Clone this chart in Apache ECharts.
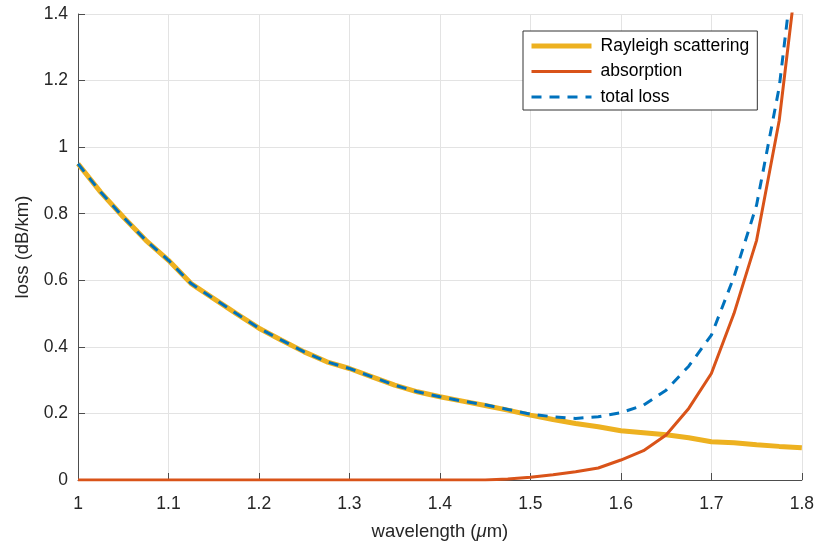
<!DOCTYPE html>
<html>
<head>
<meta charset="utf-8">
<script src="https://cdn.jsdelivr.net/npm/echarts@6/dist/echarts.min.js"></script>
<style>
  html, body { margin: 0; padding: 0; background: #fff; }
  #chart { width: 817px; height: 548px; }
</style>
</head>
<body>
<div id="chart"></div>
<script>
var wavelength = [1.0, 1.025, 1.05, 1.075, 1.1, 1.125, 1.15, 1.175, 1.2, 1.225, 1.25, 1.275,
  1.3, 1.325, 1.35, 1.375, 1.4, 1.425, 1.45, 1.475, 1.5, 1.525, 1.55, 1.575,
  1.6, 1.625, 1.65, 1.675, 1.7, 1.725, 1.75, 1.775, 1.8];

var rayleigh = [0.95, 0.865, 0.79, 0.72, 0.66, 0.59, 0.545, 0.50, 0.456, 0.42, 0.385, 0.355,
  0.335, 0.31, 0.285, 0.265, 0.25, 0.237, 0.224, 0.21, 0.195, 0.182, 0.17, 0.16,
  0.148, 0.142, 0.136, 0.127, 0.115, 0.112, 0.106, 0.101, 0.097];

var absorption = [0, 0, 0, 0, 0, 0, 0, 0, 0, 0, 0, 0,
  0, 0, 0, 0, 0, 0, 0, 0.003, 0.008, 0.016, 0.025, 0.036,
  0.06, 0.088, 0.135, 0.215, 0.32, 0.50, 0.72, 1.08, 1.65];

var totalLoss = [0.95, 0.865, 0.79, 0.72, 0.66, 0.59, 0.545, 0.50, 0.456, 0.42, 0.385, 0.355,
  0.335, 0.31, 0.285, 0.265, 0.25, 0.237, 0.226, 0.212, 0.198, 0.19, 0.185, 0.19,
  0.202, 0.225, 0.27, 0.342, 0.435, 0.61, 0.826, 1.18, 1.75];

var legendNames = ['Rayleigh scattering', 'absorption', 'total loss'];

function pairs(ys) {
  return wavelength.map(function (x, i) { return [x, ys[i]]; });
}

var fmt = function (v) { return String(+v.toFixed(1)); };
var font = '"Liberation Sans", Arial, Helvetica, sans-serif';

var chart = echarts.init(document.getElementById('chart'), null, { renderer: 'canvas' });

chart.setOption({
  animation: false,
  backgroundColor: '#fff',
  textStyle: { fontFamily: font },
  grid: { left: 78, right: 14, top: 14, bottom: 68, containLabel: false },
  legend: {
    orient: 'vertical',
    left: 523,
    top: 31,
    padding: [6, 8, 4, 6],
    itemWidth: 60,
    itemHeight: 14,
    itemGap: 7.5,
    backgroundColor: '#fff',
    borderColor: '#333',
    borderWidth: 1,
    borderRadius: 0,
    itemStyle: { opacity: 0 },
    textStyle: { fontSize: 17.5, color: '#000', fontFamily: font, padding: [0, 0, 0, 4] },
    data: [
      { name: legendNames[0], lineStyle: { width: 5 } },
      { name: legendNames[1], lineStyle: { width: 3 } },
      { name: legendNames[2], lineStyle: { width: 3 } }
    ]
  },
  xAxis: {
    type: 'value',
    min: 1,
    max: 1.8,
    interval: 0.1,
    name: '{n|wavelength (}{i|μ}{n|m)}',
    nameLocation: 'middle',
    nameGap: 42,
    nameTextStyle: {
      rich: {
        n: { fontSize: 18.5, color: '#262626', fontFamily: font },
        i: { fontSize: 18.5, color: '#262626', fontFamily: font, fontStyle: 'italic' }
      }
    },
    axisLine: { show: true, lineStyle: { color: '#4d4d4d', width: 1 } },
    axisTick: { show: true, inside: true, length: 7, lineStyle: { color: '#4d4d4d' } },
    axisLabel: { formatter: fmt, fontSize: 17.5, color: '#262626', margin: 15 },
    splitLine: { show: true, lineStyle: { color: '#e3e3e3', width: 1 } }
  },
  yAxis: {
    type: 'value',
    min: 0,
    max: 1.4,
    interval: 0.2,
    name: 'loss (dB/km)',
    nameLocation: 'middle',
    nameGap: 44,
    nameTextStyle: { fontSize: 18.5, color: '#262626', fontFamily: font },
    axisLine: { show: true, lineStyle: { color: '#4d4d4d', width: 1 } },
    axisTick: { show: true, inside: true, length: 7, lineStyle: { color: '#4d4d4d' } },
    axisLabel: { formatter: fmt, fontSize: 17.5, color: '#262626', margin: 10 },
    splitLine: { show: true, lineStyle: { color: '#e3e3e3', width: 1 } }
  },
  series: [
    {
      name: legendNames[0],
      type: 'line',
      symbol: 'none',
      clip: true,
      color: '#EDB120',
      lineStyle: { color: '#EDB120', width: 5 },
      data: pairs(rayleigh)
    },
    {
      name: legendNames[1],
      type: 'line',
      symbol: 'none',
      clip: true,
      color: '#D95319',
      lineStyle: { color: '#D95319', width: 3 },
      data: pairs(absorption)
    },
    {
      name: legendNames[2],
      type: 'line',
      symbol: 'none',
      clip: true,
      color: '#0072BD',
      lineStyle: { color: '#0072BD', width: 3, type: [10, 8] },
      data: pairs(totalLoss)
    }
  ]
});
</script>
</body>
</html>
